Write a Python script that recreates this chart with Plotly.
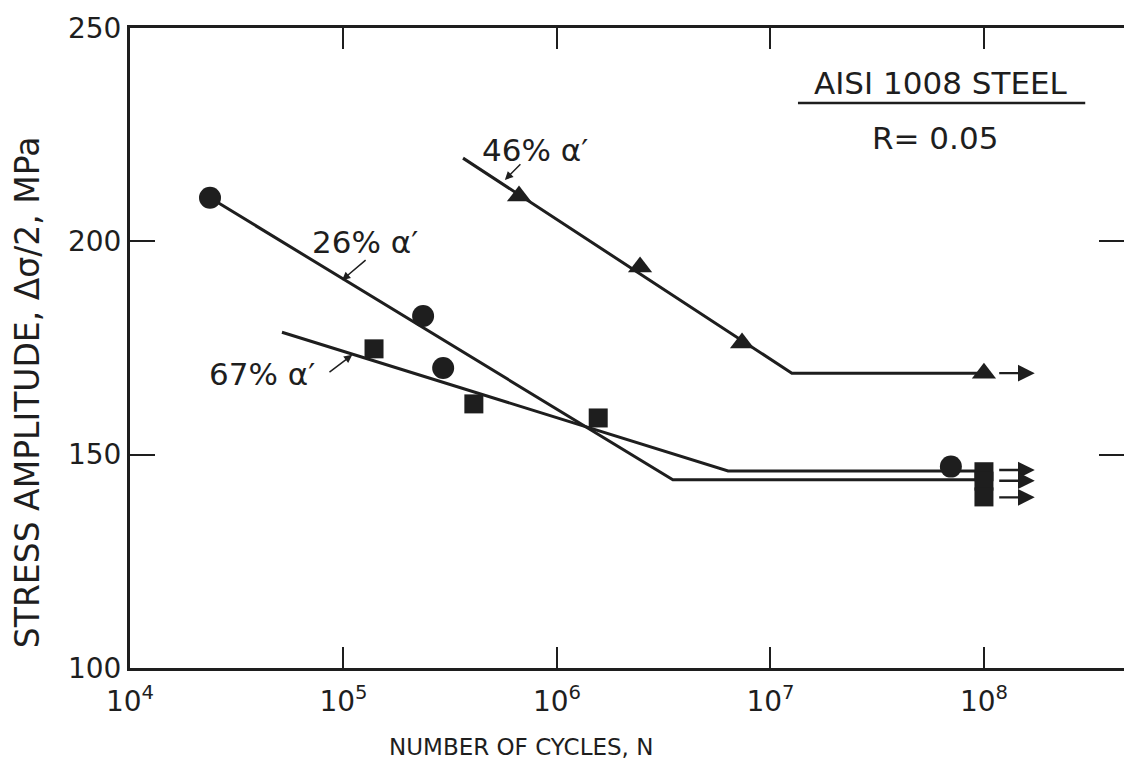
import math
import plotly.graph_objects as go

# Fatigue data for AISI 1008 steel, R = 0.05, three martensite (alpha') fractions
cycles_26 = [2.37e4, 2.36e5, 2.93e5, 7.0e7]
stress_26 = [210.2, 182.5, 170.3, 147.2]

cycles_67 = [1.39e5, 4.08e5, 1.56e6, 1.0e8, 1.0e8, 1.0e8]
stress_67 = [174.8, 161.9, 158.6, 146.0, 143.8, 140.1]

cycles_46 = [6.64e5, 2.45e6, 7.36e6, 1.0e8]
stress_46 = [210.6, 194.0, 176.2, 169.1]

# Bilinear S-N fits: start, knee, end
fit_26_n = [2.37e4, 3.49e6, 1.0e8]
fit_26_s = [210.2, 144.1, 144.1]
fit_67_n = [5.15e4, 6.33e6, 1.0e8]
fit_67_s = [178.7, 146.2, 146.2]
fit_46_n = [3.63e5, 1.26e7, 1.0e8]
fit_46_s = [219.5, 169.1, 169.1]

# Run-outs (unbroken specimens) at 10^8 cycles
runout_stress = [169.1, 146.4, 143.9, 140.0]
runout_from = 1.16e8
runout_to = 1.73e8

# Curve labels: text, label centre (N, S), pointer tail (N, S), pointer tip (N, S)
label_text = ["46% α′", "26% α′", "67% α′"]
label_n = [7.89e5, 1.26e5, 4.15e4]
label_s = [221.4, 199.8, 168.9]
pointer_tail_n = [6.85e5, 1.29e5, 8.46e4]
pointer_tail_s = [218.4, 195.9, 169.1]
pointer_tip_n = [5.70e5, 9.84e4, 1.10e5]
pointer_tip_s = [214.4, 190.9, 173.4]

x_tickvals = [1e4, 1e5, 1e6, 1e7, 1e8]
x_ticktext = ["10<sup>4</sup>", "10<sup>5</sup>", "10<sup>6</sup>", "10<sup>7</sup>", "10<sup>8</sup>"]
y_tickvals = [100, 150, 200, 250]

INK = "#1e1e1e"
FONT = "DejaVu Sans"

lg = math.log10  # annotations on a log axis are placed in log10 units

fig = go.Figure()

for n, s in [(fit_26_n, fit_26_s), (fit_67_n, fit_67_s), (fit_46_n, fit_46_s)]:
    fig.add_trace(go.Scatter(x=n, y=s, mode="lines",
                             line=dict(color=INK, width=3), showlegend=False,
                             hoverinfo="skip"))

fig.add_trace(go.Scatter(x=cycles_26, y=stress_26, mode="markers",
                         marker=dict(symbol="circle", size=22, color=INK),
                         showlegend=False))
fig.add_trace(go.Scatter(x=cycles_67, y=stress_67, mode="markers",
                         marker=dict(symbol="square", size=19, color=INK),
                         showlegend=False))
fig.add_trace(go.Scatter(x=cycles_46, y=stress_46, mode="markers",
                         marker=dict(symbol="triangle-up", size=21, color=INK),
                         showlegend=False))

# invisible trace anchoring the right-hand tick axis
fig.add_trace(go.Scatter(x=[1e5], y=[150], yaxis="y2", mode="markers",
                         marker=dict(opacity=0), showlegend=False,
                         hoverinfo="skip"))

annotations = []

# run-out arrows
for s in runout_stress:
    annotations.append(dict(x=lg(runout_to), y=s, ax=lg(runout_from), ay=s,
                            xref="x", yref="y", axref="x", ayref="y",
                            text="", showarrow=True, arrowhead=2,
                            arrowsize=1.4, arrowwidth=2.4, arrowcolor=INK))

# pointer arrows from each label to its curve
for tn, ts, hn, hs in zip(pointer_tail_n, pointer_tail_s,
                          pointer_tip_n, pointer_tip_s):
    annotations.append(dict(x=lg(hn), y=hs, ax=lg(tn), ay=ts,
                            xref="x", yref="y", axref="x", ayref="y",
                            text="", showarrow=True, arrowhead=2,
                            arrowsize=1.1, arrowwidth=1.5, arrowcolor=INK))

for text, tx, ty in zip(label_text, label_n, label_s):
    annotations.append(dict(x=lg(tx), y=ty, xref="x", yref="y", text=text,
                            showarrow=False, xanchor="center", yanchor="middle",
                            font=dict(family=FONT, size=31, color=INK)))

annotations += [
    dict(x=0.816, y=0.914, xref="paper", yref="paper", text="AISI 1008 STEEL",
         xanchor="center", yanchor="middle", showarrow=False,
         font=dict(family=FONT, size=31, color=INK)),
    dict(x=0.810, y=0.828, xref="paper", yref="paper", text="R= 0.05",
         xanchor="center", yanchor="middle", showarrow=False,
         font=dict(family=FONT, size=31, color=INK)),
    dict(x=0.393, y=-0.123, xref="paper", yref="paper",
         text="NUMBER OF CYCLES, N", xanchor="center", yanchor="middle",
         showarrow=False, font=dict(family=FONT, size=23, color=INK)),
    dict(x=-0.1036, y=0.431, xref="paper", yref="paper",
         text="STRESS AMPLITUDE, Δσ/2, MPa", textangle=-90, showarrow=False,
         xanchor="center", yanchor="middle",
         font=dict(family=FONT, size=33, color=INK)),
]

fig.update_layout(
    width=1125, height=766,
    margin=dict(l=130, r=1, t=28, b=98),
    paper_bgcolor="white", plot_bgcolor="white",
    font=dict(family=FONT, color=INK),
    annotations=annotations,
    shapes=[dict(type="line", xref="paper", yref="paper",
                 x0=0.672, x1=0.961, y0=0.883, y1=0.883,
                 line=dict(color=INK, width=2.5))],
    xaxis=dict(type="log", range=[4, 8.656], tickvals=x_tickvals,
               ticktext=x_ticktext, ticks="inside", ticklen=21, tickwidth=2,
               tickcolor=INK, showline=True, linecolor=INK, linewidth=3,
               mirror="ticks", showgrid=False, zeroline=False,
               ticklabelstandoff=6,
               tickfont=dict(family=FONT, size=28, color=INK)),
    yaxis=dict(range=[100, 250], tickvals=y_tickvals, ticks="inside",
               ticklen=25, tickwidth=2, tickcolor=INK, showline=True,
               linecolor=INK, linewidth=3, mirror=False, showgrid=False,
               zeroline=False, tickfont=dict(family=FONT, size=28, color=INK)),
    yaxis2=dict(range=[100, 250], overlaying="y", side="right",
                tickvals=[150, 200], ticks="inside", ticklen=25, tickwidth=2,
                tickcolor=INK, showticklabels=False, showline=False,
                showgrid=False, zeroline=False),
)

fig.write_html("out.html")
